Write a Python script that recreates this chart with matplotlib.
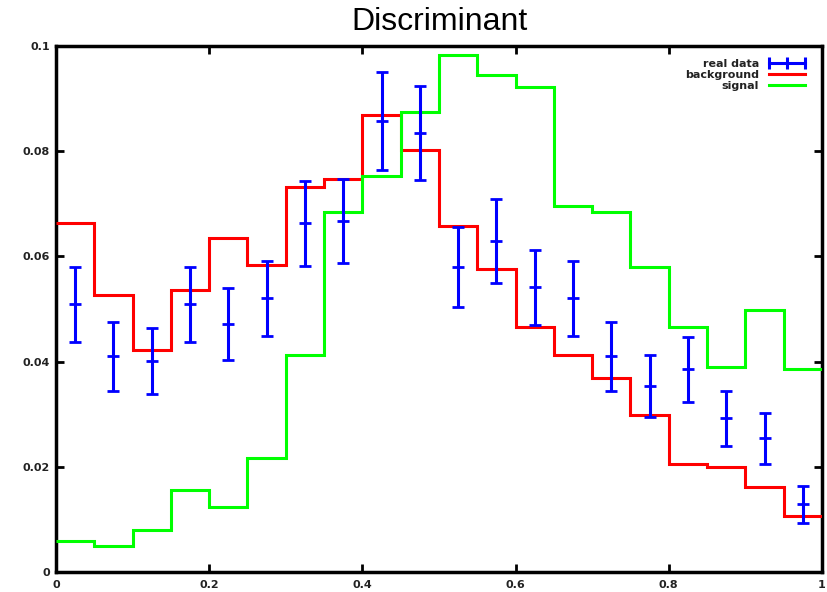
import numpy as np
import matplotlib.pyplot as plt
from matplotlib.lines import Line2D

plt.rcParams['font.family'] = ['Liberation Sans', 'DejaVu Sans']

# 20 bins on [0, 1]
edges = np.linspace(0, 1, 21)
centers = 0.5 * (edges[:-1] + edges[1:])

background = [0.0664, 0.0527, 0.0422, 0.0536, 0.0635, 0.0584, 0.0732, 0.0747, 0.0869, 0.0802,
              0.0658, 0.0576, 0.0466, 0.0413, 0.0369, 0.0299, 0.0205, 0.0200, 0.0161, 0.0107]
signal = [0.0059, 0.0049, 0.0080, 0.0156, 0.0124, 0.0217, 0.0413, 0.0684, 0.0753, 0.0875,
          0.0983, 0.0945, 0.0923, 0.0696, 0.0684, 0.0580, 0.0465, 0.0390, 0.0498, 0.0386]
real_data = [0.0509, 0.0410, 0.0401, 0.0509, 0.0471, 0.0520, 0.0663, 0.0668, 0.0857, 0.0835,
             0.0580, 0.0629, 0.0541, 0.0520, 0.0410, 0.0353, 0.0385, 0.0292, 0.0254, 0.0129]
real_err = [0.0071, 0.0065, 0.0062, 0.0071, 0.0068, 0.0071, 0.0081, 0.0080, 0.0093, 0.0089,
            0.0076, 0.0080, 0.0072, 0.0071, 0.0065, 0.0059, 0.0062, 0.0052, 0.0049, 0.0035]

xticks = [0, 0.2, 0.4, 0.6, 0.8, 1]
xtick_labels = ['0', '0.2', '0.4', '0.6', '0.8', '1']
yticks = [0, 0.02, 0.04, 0.06, 0.08, 0.1]
ytick_labels = ['0', '0.02', '0.04', '0.06', '0.08', '0.1']

fig = plt.figure(figsize=(8.28, 5.92), dpi=100)
ax = fig.add_axes([56 / 828, 20 / 592, 766 / 828, 526 / 592])

ax.stairs(background, edges, baseline=None, color='#ff0000', lw=2.2, zorder=3)
ax.stairs(signal, edges, baseline=None, color='#00ff00', lw=2.2, zorder=3)
ax.errorbar(centers, real_data, yerr=real_err, fmt='_', color='#0000ff', ms=8, mew=2,
            elinewidth=2.2, capsize=4, capthick=2.2, zorder=4)

ax.set_xlim(0, 1)
ax.set_ylim(0, 0.1)
ax.set_xticks(xticks)
ax.set_xticklabels(xtick_labels)
ax.set_yticks(yticks)
ax.set_yticklabels(ytick_labels)
ax.tick_params(direction='in', length=6, width=2, labelsize=8, top=True, right=True)
ax.tick_params(axis='y', pad=4.5)
ax.tick_params(axis='x', pad=6)
for lbl in ax.get_xticklabels() + ax.get_yticklabels():
    lbl.set_fontfamily('DejaVu Sans')
    lbl.set_fontweight('bold')
    lbl.set_color('#222222')
for s in ax.spines.values():
    s.set_linewidth(2.5)

fig.text(0.531, 0.962, 'Discriminant', ha='center', va='center', fontsize=23)

handles = [
    Line2D([], [], color='#0000ff', lw=2.2, marker='|', ms=8, mew=2.2),
    Line2D([], [], color='#ff0000', lw=2.2),
    Line2D([], [], color='#00ff00', lw=2.2),
]
leg = ax.legend(handles, ['real data', 'background', 'signal'], loc='upper right',
                bbox_to_anchor=(0.99, 0.986), frameon=False, markerfirst=False, numpoints=3,
                prop={'family': 'DejaVu Sans', 'weight': 'bold', 'size': 8},
                handlelength=3.9, handletextpad=0.6, labelspacing=0.08, borderpad=0)
for t in leg.get_texts():
    t.set_color('#222222')

fig.savefig('out.png', dpi=100)
